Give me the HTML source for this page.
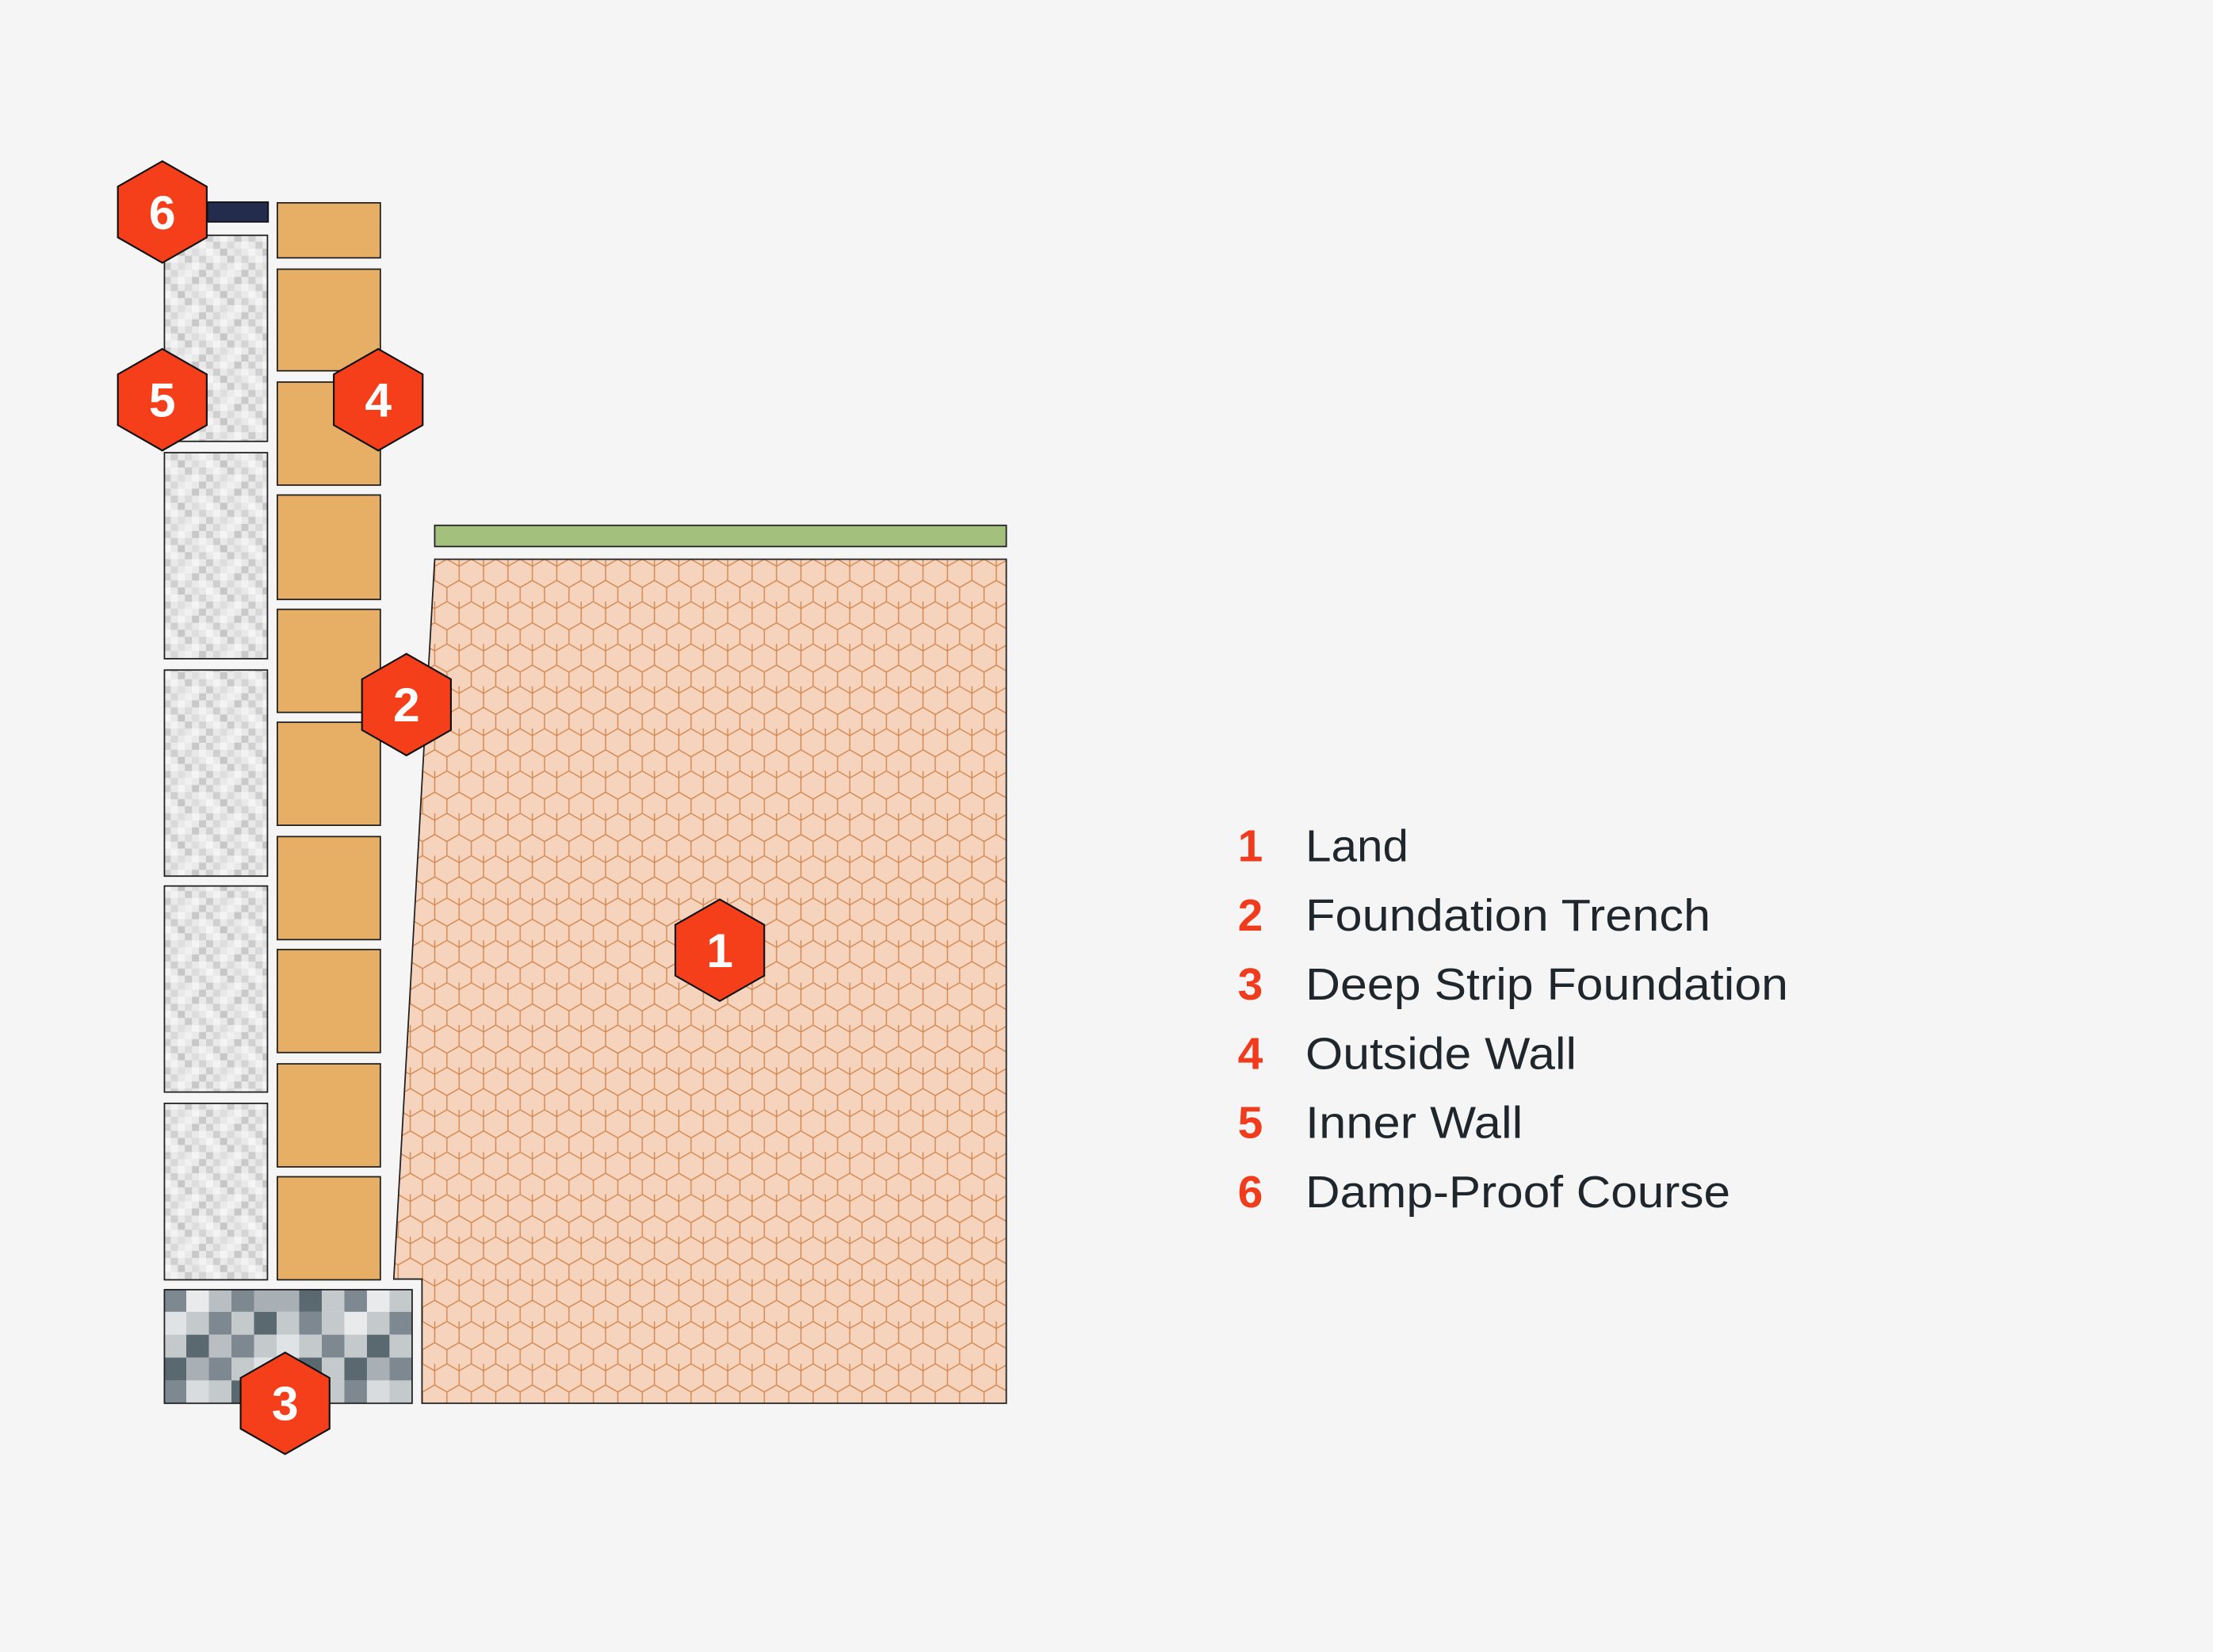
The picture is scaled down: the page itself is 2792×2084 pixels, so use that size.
<!DOCTYPE html>
<html><head><meta charset="utf-8"><style>html,body{margin:0;padding:0;background:#f5f5f5}svg{display:block}</style></head>
<body>
<svg width="2792" height="2084" viewBox="0 0 1568 1170" xmlns="http://www.w3.org/2000/svg">
<defs>
<pattern id="hex" width="17.3" height="30" patternUnits="userSpaceOnUse" x="308" y="396">
<rect width="17.3" height="30" fill="#f5d3bd"/>
<path d="M0,5 L8.65,0 L17.3,5 L17.3,15 L8.65,20 L0,15 Z M8.65,20 L8.65,30 M0,5 L0,-5 M17.3,5 L17.3,-5" fill="none" stroke="#d4884f" stroke-width="0.8"/>
</pattern>
<pattern id="speck" width="30" height="30" patternUnits="userSpaceOnUse" x="116" y="166">
<rect width="30" height="30" fill="#e9e9e9"/>
<rect x="0" y="0" width="5" height="5" fill="#d0d0d0"/><rect x="10" y="0" width="5" height="5" fill="#f4f4f4"/><rect x="20" y="0" width="5" height="5" fill="#c8c8c8"/>
<rect x="5" y="5" width="5" height="5" fill="#cfcfcf"/><rect x="15" y="5" width="5" height="5" fill="#dadada"/><rect x="25" y="5" width="5" height="5" fill="#f2f2f2"/>
<rect x="0" y="10" width="5" height="5" fill="#f5f5f5"/><rect x="10" y="10" width="5" height="5" fill="#c6c6c6"/><rect x="20" y="10" width="5" height="5" fill="#dddddd"/>
<rect x="5" y="15" width="5" height="5" fill="#f3f3f3"/><rect x="15" y="15" width="5" height="5" fill="#cbcbcb"/><rect x="25" y="15" width="5" height="5" fill="#d4d4d4"/>
<rect x="0" y="20" width="5" height="5" fill="#cccccc"/><rect x="10" y="20" width="5" height="5" fill="#dedede"/><rect x="20" y="20" width="5" height="5" fill="#f4f4f4"/>
<rect x="5" y="25" width="5" height="5" fill="#d8d8d8"/><rect x="15" y="25" width="5" height="5" fill="#f1f1f1"/><rect x="25" y="25" width="5" height="5" fill="#c9c9c9"/>
</pattern>
<g id="hx"><polygon points="0,-36 31.5,-18 31.5,18 0,36 -31.5,18 -31.5,-18" fill="#f43f1a" stroke="#111" stroke-width="1.2"/></g>
</defs>
<rect width="1568" height="1170" fill="#f5f5f5"/>

<!-- land -->
<polygon points="308,396 713,396 713,994 299,994 299,906 279,906" fill="url(#hex)" stroke="#222" stroke-width="1"/>
<rect x="308" y="372" width="405" height="15" fill="#a3c07c" stroke="#222" stroke-width="1"/>

<!-- DPC -->
<rect x="147" y="143" width="43" height="14" fill="#232c4d" stroke="#111" stroke-width="1"/>

<!-- inner wall -->
<g fill="url(#speck)" stroke="#222" stroke-width="1">
<rect x="116.5" y="166.5" width="73" height="146"/>
<rect x="116.5" y="320.5" width="73" height="146"/>
<rect x="116.5" y="474.5" width="73" height="146"/>
<rect x="116.5" y="627.5" width="73" height="146"/>
<rect x="116.5" y="781.5" width="73" height="125"/>
</g>

<!-- outer bricks -->
<g fill="#e6af65" stroke="#222" stroke-width="1">
<rect x="196.5" y="143.5" width="73" height="39"/>
<rect x="196.5" y="190.5" width="73" height="72"/>
<rect x="196.5" y="270.5" width="73" height="73"/>
<rect x="196.5" y="350.5" width="73" height="74"/>
<rect x="196.5" y="431.5" width="73" height="73"/>
<rect x="196.5" y="511.5" width="73" height="73"/>
<rect x="196.5" y="592.5" width="73" height="73"/>
<rect x="196.5" y="672.5" width="73" height="73"/>
<rect x="196.5" y="753.5" width="73" height="73"/>
<rect x="196.5" y="833.5" width="73" height="73"/>
</g>

<!-- foundation -->
<g>
<rect x="116" y="913" width="16" height="16.2" fill="#7e8890"/><rect x="132" y="913" width="16" height="16.2" fill="#e8eaec"/><rect x="148" y="913" width="16" height="16.2" fill="#b8bec2"/><rect x="164" y="913" width="16" height="16.2" fill="#7e8890"/><rect x="180" y="913" width="16" height="16.2" fill="#a8b0b5"/><rect x="196" y="913" width="16" height="16.2" fill="#a8b0b5"/><rect x="212" y="913" width="16" height="16.2" fill="#5a6870"/><rect x="228" y="913" width="16" height="16.2" fill="#c4c9cc"/><rect x="244" y="913" width="16" height="16.2" fill="#7e8890"/><rect x="260" y="913" width="16" height="16.2" fill="#e8eaec"/><rect x="276" y="913" width="16" height="16.2" fill="#c4c9cc"/>
<rect x="116" y="929.2" width="16" height="16.2" fill="#e0e3e5"/><rect x="132" y="929.2" width="16" height="16.2" fill="#c4c9cc"/><rect x="148" y="929.2" width="16" height="16.2" fill="#7e8890"/><rect x="164" y="929.2" width="16" height="16.2" fill="#c4c9cc"/><rect x="180" y="929.2" width="16" height="16.2" fill="#5a6870"/><rect x="196" y="929.2" width="16" height="16.2" fill="#c4c9cc"/><rect x="212" y="929.2" width="16" height="16.2" fill="#7e8890"/><rect x="228" y="929.2" width="16" height="16.2" fill="#c4c9cc"/><rect x="244" y="929.2" width="16" height="16.2" fill="#e8eaec"/><rect x="260" y="929.2" width="16" height="16.2" fill="#c4c9cc"/><rect x="276" y="929.2" width="16" height="16.2" fill="#7e8890"/>
<rect x="116" y="945.4" width="16" height="16.2" fill="#c4c9cc"/><rect x="132" y="945.4" width="16" height="16.2" fill="#5a6870"/><rect x="148" y="945.4" width="16" height="16.2" fill="#b8bec2"/><rect x="164" y="945.4" width="16" height="16.2" fill="#7e8890"/><rect x="180" y="945.4" width="16" height="16.2" fill="#c4c9cc"/><rect x="196" y="945.4" width="16" height="16.2" fill="#e0e3e5"/><rect x="212" y="945.4" width="16" height="16.2" fill="#c4c9cc"/><rect x="228" y="945.4" width="16" height="16.2" fill="#7e8890"/><rect x="244" y="945.4" width="16" height="16.2" fill="#c4c9cc"/><rect x="260" y="945.4" width="16" height="16.2" fill="#5a6870"/><rect x="276" y="945.4" width="16" height="16.2" fill="#c4c9cc"/>
<rect x="116" y="961.6" width="16" height="16.2" fill="#5a6870"/><rect x="132" y="961.6" width="16" height="16.2" fill="#a8b0b5"/><rect x="148" y="961.6" width="16" height="16.2" fill="#7e8890"/><rect x="164" y="961.6" width="16" height="16.2" fill="#c4c9cc"/><rect x="180" y="961.6" width="16" height="16.2" fill="#e0e3e5"/><rect x="196" y="961.6" width="16" height="16.2" fill="#a8b0b5"/><rect x="212" y="961.6" width="16" height="16.2" fill="#5a6870"/><rect x="228" y="961.6" width="16" height="16.2" fill="#c4c9cc"/><rect x="244" y="961.6" width="16" height="16.2" fill="#5a6870"/><rect x="260" y="961.6" width="16" height="16.2" fill="#a8b0b5"/><rect x="276" y="961.6" width="16" height="16.2" fill="#7e8890"/>
<rect x="116" y="977.8" width="16" height="16.2" fill="#7e8890"/><rect x="132" y="977.8" width="16" height="16.2" fill="#d8dcde"/><rect x="148" y="977.8" width="16" height="16.2" fill="#c4c9cc"/><rect x="164" y="977.8" width="16" height="16.2" fill="#5a6870"/><rect x="180" y="977.8" width="16" height="16.2" fill="#c4c9cc"/><rect x="196" y="977.8" width="16" height="16.2" fill="#7e8890"/><rect x="212" y="977.8" width="16" height="16.2" fill="#a8b0b5"/><rect x="228" y="977.8" width="16" height="16.2" fill="#c4c9cc"/><rect x="244" y="977.8" width="16" height="16.2" fill="#7e8890"/><rect x="260" y="977.8" width="16" height="16.2" fill="#d8dcde"/><rect x="276" y="977.8" width="16" height="16.2" fill="#c4c9cc"/>
<rect x="116.5" y="913.5" width="175.5" height="80.5" fill="none" stroke="#222" stroke-width="1"/>
</g>

<!-- badges -->
<g font-family="Liberation Sans, sans-serif" font-weight="bold" font-size="34" fill="#fff" text-anchor="middle">
<use href="#hx" x="115" y="150"/><text x="115" y="162">6</text>
<use href="#hx" x="115" y="283"/><text x="115" y="295">5</text>
<use href="#hx" x="268" y="283"/><text x="268" y="295">4</text>
<use href="#hx" x="288" y="499"/><text x="288" y="511">2</text>
<use href="#hx" x="510" y="673"/><text x="510" y="685">1</text>
<use href="#hx" x="202" y="994"/><text x="202" y="1006">3</text>
</g>

<!-- legend -->
<g font-family="Liberation Sans, sans-serif" font-size="32">
<g fill="#f03c1c" font-weight="bold">
<text x="877" y="610">1</text><text x="877" y="659">2</text><text x="877" y="708">3</text><text x="877" y="757">4</text><text x="877" y="806">5</text><text x="877" y="855">6</text>
</g>
<g fill="#1f272d">
<text x="925" y="610" textLength="73" lengthAdjust="spacingAndGlyphs">Land</text>
<text x="925" y="659" textLength="287" lengthAdjust="spacingAndGlyphs">Foundation Trench</text>
<text x="925" y="708" textLength="342" lengthAdjust="spacingAndGlyphs">Deep Strip Foundation</text>
<text x="925" y="757" textLength="192" lengthAdjust="spacingAndGlyphs">Outside Wall</text>
<text x="925" y="806" textLength="154" lengthAdjust="spacingAndGlyphs">Inner Wall</text>
<text x="925" y="855" textLength="301" lengthAdjust="spacingAndGlyphs">Damp-Proof Course</text>
</g>
</g>
</svg>
</body></html>
